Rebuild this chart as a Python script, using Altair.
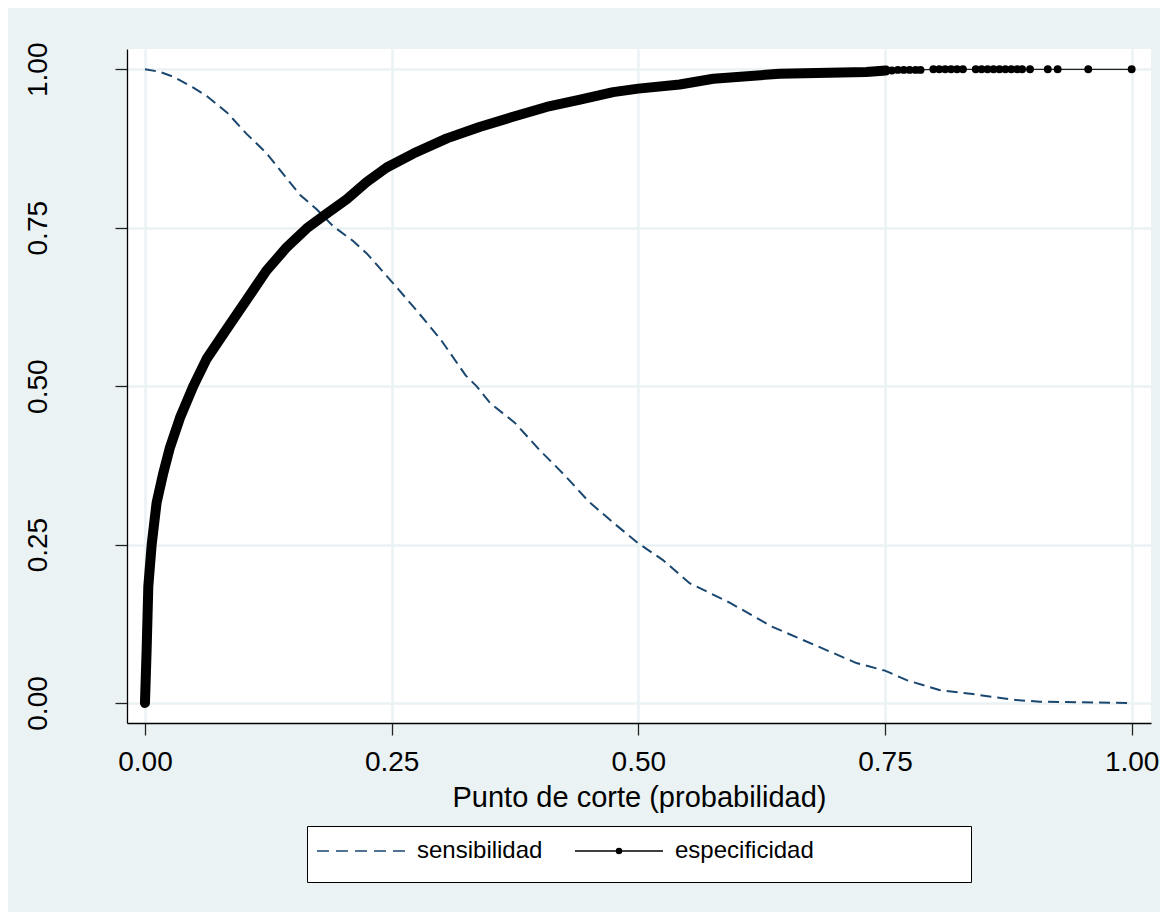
import altair as alt
import pandas as pd

# ---- data ----
sens_x = [0, 0.015, 0.029, 0.049, 0.0625, 0.083, 0.103, 0.123, 0.14, 0.157, 0.174, 0.191,
          0.211, 0.225, 0.25, 0.275, 0.3, 0.325, 0.336, 0.35, 0.375, 0.4, 0.425, 0.45,
          0.475, 0.5, 0.525, 0.552, 0.593, 0.636, 0.681, 0.721, 0.75, 0.772, 0.805,
          0.839, 0.88, 0.907, 0.95, 1.0]
sens_y = [1.0, 0.996, 0.988, 0.971, 0.958, 0.932, 0.898, 0.868, 0.835, 0.802, 0.779, 0.752,
          0.729, 0.709, 0.665, 0.62, 0.573, 0.517, 0.5, 0.473, 0.442, 0.399, 0.36, 0.3175,
          0.284, 0.252, 0.2255, 0.189, 0.158, 0.12, 0.09, 0.063, 0.051, 0.036, 0.0205,
          0.014, 0.005, 0.002, 0.001, 0.0]

spec_x = [0, 0.0017, 0.0034, 0.0068, 0.0118, 0.0186, 0.0253, 0.0355, 0.049, 0.0625, 0.0828,
          0.103, 0.123, 0.1436, 0.164, 0.184, 0.2045, 0.2247, 0.245, 0.272, 0.306, 0.339,
          0.373, 0.407, 0.441, 0.4745, 0.5, 0.542, 0.576, 0.643, 0.731, 0.751]
spec_y = [0.0, 0.084, 0.184, 0.25, 0.316, 0.363, 0.403, 0.45, 0.5, 0.543, 0.59,
          0.636, 0.682, 0.719, 0.749, 0.772, 0.795, 0.822, 0.845, 0.867, 0.891, 0.909,
          0.925, 0.9405, 0.952, 0.964, 0.9695, 0.976, 0.985, 0.993, 0.9957, 0.998]

# separate markers visible at the top right
dot_x = [0.751, 0.757, 0.763, 0.769, 0.775, 0.781, 0.786, 0.799, 0.805, 0.811, 0.817,
         0.823, 0.829, 0.842, 0.848, 0.854, 0.860, 0.866, 0.872, 0.878, 0.884, 0.889,
         0.897, 0.915, 0.925, 0.956, 1.0]
dot_y = [0.998, 0.998, 0.999, 0.999, 0.999, 0.999, 0.999, 1.0, 1.0, 1.0, 1.0,
         1.0, 1.0, 1.0, 1.0, 1.0, 1.0, 1.0, 1.0, 1.0, 1.0, 1.0,
         1.0, 1.0, 1.0, 1.0, 1.0]

series = ["sensibilidad", "especificidad"]
series_colors = ["#1A476F", "#000000"]
tick_values = [0, 0.25, 0.5, 0.75, 1.0]

# legend key glyphs (custom symbol paths)
key_dashed = "M0,-3M0,3M-8.8,0H-6.4M-5,0H-2.6M-1.2,0H1.2M2.6,0H5M6.4,0H8.8"
key_dotline = ("M0,-3M0,3M-8.8,0H8.8"
               "M0.5,0A0.5,0.5 0 1,1 -0.5,0A0.5,0.5 0 1,1 0.5,0"
               "M0.3,0A0.3,0.3 0 1,1 -0.3,0A0.3,0.3 0 1,1 0.3,0"
               "M0.1,0A0.1,0.1 0 1,1 -0.1,0A0.1,0.1 0 1,1 0.1,0")
key_blank = "M0,0"
# an empty third legend slot widens the legend box like the original one
blank_entry = "\u2800"
legend_domain = series + [blank_entry]

sens_df = pd.DataFrame({"x": sens_x, "y": sens_y})
spec_df = pd.DataFrame({"x": spec_x, "y": spec_y})
dots_df = pd.DataFrame({"x": dot_x, "y": dot_y})
spec_all_df = pd.concat([spec_df, dots_df], ignore_index=True)
legend_df = pd.DataFrame({"serie": series})

FONT = "Liberation Sans"
BG = "#EAF2F3"

xscale = alt.Scale(domain=[-0.0182, 1.0196], nice=False, zero=False)
yscale = alt.Scale(domain=[-0.0316, 1.032], nice=False, zero=False)

xaxis = alt.Axis(values=tick_values, format=".2f", title="Punto de corte (probabilidad)",
                 labelFontSize=28, labelPadding=13, titleFontSize=29,
                 titleFontWeight="normal", titleBaseline="top", titleY=60,
                 tickSize=12)
yaxis = alt.Axis(values=tick_values, format=".2f", title=None,
                 labelFontSize=28, labelAngle=270, labelAlign="center",
                 labelBaseline="alphabetic", labelPadding=69, tickSize=12)

X = alt.X("x:Q", scale=xscale, axis=xaxis)
Y = alt.Y("y:Q", scale=yscale, axis=yaxis)

sens = alt.Chart(sens_df).mark_line(color="#1A476F", strokeWidth=2,
                                    strokeDash=[11, 6], clip=True).encode(x=X, y=Y)

spec_thin = alt.Chart(spec_all_df).mark_line(color="#222222", strokeWidth=1.3,
                                             clip=True).encode(x=X, y=Y)

spec_thick = alt.Chart(spec_df).mark_line(color="black", strokeWidth=10, strokeCap="round",
                                          strokeJoin="round", clip=True).encode(x=X, y=Y)

spec_dots = alt.Chart(dots_df).mark_circle(color="black", size=62, opacity=1,
                                           clip=True).encode(x=X, y=Y)

shared_legend = alt.Legend(
    title=None, orient="none", legendX=180, legendY=777,
    direction="horizontal", symbolSize=100, symbolOffset=29,
    labelOffset=44, columnPadding=29, padding=13,
    strokeColor="black", fillColor="white",
    labelFontSize=24, labelFont=FONT, labelColor="black",
    labelBaseline="middle", labelLimit=600,
    symbolStrokeWidth=1.5, gridAlign="each",
)

legend_layer = alt.Chart(legend_df).mark_point(filled=False, size=100, strokeWidth=1.5,
                                               opacity=1, clip=True).encode(
    x=alt.value(-2000),
    y=alt.value(-2000),
    shape=alt.Shape("serie:N",
                    scale=alt.Scale(domain=legend_domain,
                                    range=[key_dashed, key_dotline, key_blank]),
                    legend=shared_legend),
    color=alt.Color("serie:N",
                    scale=alt.Scale(domain=legend_domain,
                                    range=series_colors + ["transparent"]),
                    legend=shared_legend),
)

chart = alt.layer(sens, spec_thin, spec_thick, spec_dots, legend_layer).properties(
    width=1024, height=674,
    background=BG,
    padding={"left": 119, "top": 41, "right": 9, "bottom": 189},
    autosize=alt.AutoSizeParams(type="none"),
).configure_view(
    fill="white", strokeWidth=0
).configure_axis(
    labelFont=FONT, titleFont=FONT, labelColor="black", titleColor="black",
    domainColor="black", domainWidth=1.3, tickColor="#222222", tickWidth=1.3,
    grid=True, gridColor=BG, gridWidth=2.5,
).configure_legend(
    labelFont=FONT
)

chart.save("out.html", embed_options={"renderer": "svg", "actions": False})
